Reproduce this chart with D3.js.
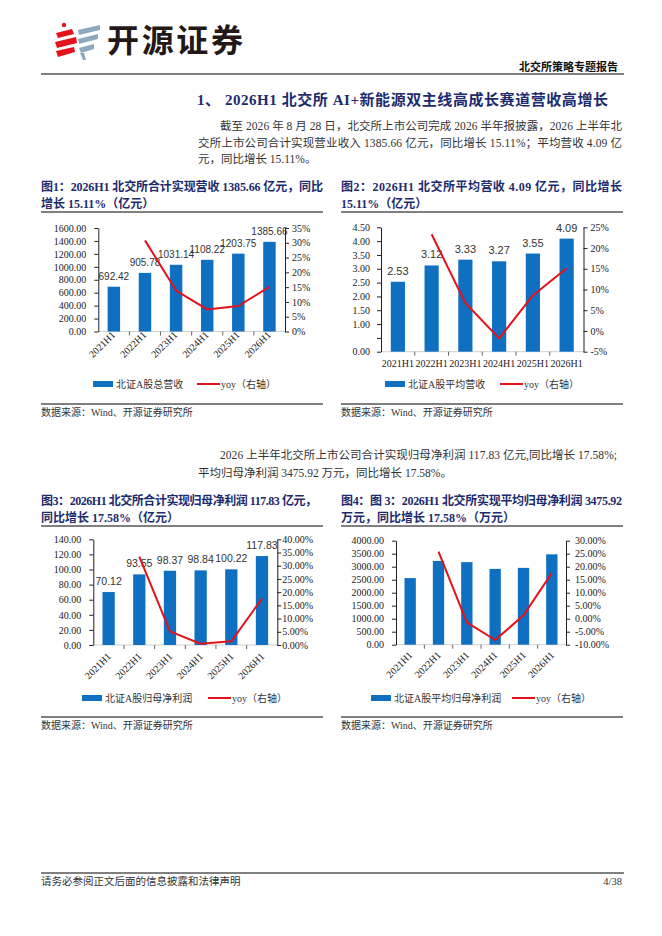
<!DOCTYPE html>
<html>
<head>
<meta charset="utf-8">
<script src="https://cdn.jsdelivr.net/npm/d3@7"></script>
<style>
  body { margin: 0; background: #fff; }
  svg { display: block; }
</style>
</head>
<body>
<script>
// ---- data ----
const years = ["2021H1", "2022H1", "2023H1", "2024H1", "2025H1", "2026H1"];

const revTotal = [692.42, 905.78, 1031.14, 1108.22, 1203.75, 1385.66];
const revTotalYoy = [null, 30.81, 13.84, 7.48, 8.62, 15.11];

const revAvg = [2.53, 3.12, 3.33, 3.27, 3.55, 4.09];
const revAvgYoy = [null, 23.32, 6.73, -1.80, 8.56, 15.11];

const profitTotal = [70.12, 93.55, 98.37, 98.84, 100.22, 117.83];
const profitTotalYoy = [null, 33.41, 5.15, 0.48, 1.40, 17.58];

const profitAvg = [2562, 3222, 3176, 2916, 2955, 3475.92];
const profitAvgYoy = [null, 25.8, -1.4, -8.2, 1.3, 17.58];

const ticks1Left = [0, 200, 400, 600, 800, 1000, 1200, 1400, 1600];
const ticks1Right = [0, 5, 10, 15, 20, 25, 30, 35];
const ticks2Left = [0, 0.5, 1, 1.5, 2, 2.5, 3, 3.5, 4, 4.5];
const ticks2Right = [-5, 0, 5, 10, 15, 20, 25];
const ticks3Left = [0, 20, 40, 60, 80, 100, 120, 140];
const ticks3Right = [0, 5, 10, 15, 20, 25, 30, 35, 40];
const ticks4Left = [0, 500, 1000, 1500, 2000, 2500, 3000, 3500, 4000];
const ticks4Right = [-10, -5, 0, 5, 10, 15, 20, 25, 30];

const SERIF = '"Liberation Serif","Noto Sans CJK SC",serif';
const SANS = '"Liberation Sans","Noto Sans CJK SC",sans-serif';
const NAVY = "#1c2b6e";
const BLUE = "#0f6fc0";
const RED = "#e3121b";

const svg = d3.select("body").append("svg")
    .attr("width", 662).attr("height", 936);
svg.append("rect").attr("width", 662).attr("height", 936).attr("fill", "#fff");

function txt(x, y, s, o) {
    o = o || {};
    const t = svg.append("text")
        .attr("x", x).attr("y", y)
        .attr("font-family", o.family || SERIF)
        .attr("font-size", o.size || 12)
        .attr("font-weight", o.weight || "normal")
        .attr("fill", o.fill || "#222")
        .attr("text-anchor", o.anchor || "start")
        .text(s);
    if (o.len) t.attr("textLength", o.len).attr("lengthAdjust", "spacing");
    return t;
}

// ---- header ----
const logo = svg.append("g");
logo.append("circle").attr("cx", 64).attr("cy", 25).attr("r", 2.2).attr("fill", RED);
[[56,33,72,29,74,34,58,38],[55,42,76,37,77,43,57,48],[56,51,74,47,75,52,58,57]].forEach(p => {
    logo.append("polygon").attr("points", `${p[0]},${p[1]} ${p[2]},${p[3]} ${p[4]},${p[5]} ${p[6]},${p[7]}`).attr("fill", RED);
});
[[78,30,100,25,100,30,79,35],[78,39,98,34,98,39,79,44],[79,48,94,44,94,49,81,53],[80,53,84,53,86,60,83,60]].forEach(p => {
    logo.append("polygon").attr("points", `${p[0]},${p[1]} ${p[2]},${p[3]} ${p[4]},${p[5]} ${p[6]},${p[7]}`).attr("fill", "#8ea9bf");
});
txt(107, 52, "开源证券", {family: '"Noto Sans CJK SC",sans-serif', size: 32, weight: 700, fill: "#231815", len: 136});

txt(618, 71, "北交所策略专题报告", {size: 11, weight: "bold", fill: "#111", anchor: "end"});
svg.append("line").attr("x1", 41).attr("x2", 624).attr("y1", 74).attr("y2", 74)
    .attr("stroke", "#000").attr("stroke-width", 1.2);

txt(197, 105, "1、 2026H1 北交所 AI+新能源双主线高成长赛道营收高增长", {size: 15, weight: "bold", fill: NAVY, len: 411});

txt(220, 130, "截至 2026 年 8 月 28 日，北交所上市公司完成 2026 半年报披露，2026 上半年北", {size: 11.5, fill: "#333", len: 402});
txt(198, 147, "交所上市公司合计实现营业收入 1385.66 亿元，同比增长 15.11%；平均营收 4.09 亿", {size: 11.5, fill: "#333", len: 424});
txt(198, 163, "元，同比增长 15.11%。", {size: 11.5, fill: "#333"});

txt(220, 459, "2026 上半年北交所上市公司合计实现归母净利润 117.83 亿元,同比增长 17.58%;", {size: 11.5, fill: "#333", len: 397});
txt(198, 477, "平均归母净利润 3475.92 万元，同比增长 17.58%。", {size: 11.5, fill: "#333"});

// ---- footer ----
svg.append("line").attr("x1", 41).attr("x2", 624).attr("y1", 873).attr("y2", 873)
    .attr("stroke", "#000").attr("stroke-width", 1);
txt(41, 885, "请务必参阅正文后面的信息披露和法律声明", {size: 10.5, fill: "#333"});
txt(622, 885, "4/38", {size: 10.5, fill: "#333", anchor: "end"});

// ---- charts ----
function drawChart(c) {
    // title block
    txt(c.left, c.titleY, c.title1, {size: 12, weight: "bold", fill: NAVY, len: c.title1Len});
    txt(c.left, c.titleY + 17, c.title2, {size: 12, weight: "bold", fill: NAVY});
    svg.append("line").attr("x1", c.left).attr("x2", c.left + 282)
        .attr("y1", c.titleY + 21).attr("y2", c.titleY + 21).attr("stroke", "#000").attr("stroke-width", 1);
    svg.append("line").attr("x1", c.left).attr("x2", c.left + 282)
        .attr("y1", c.srcY).attr("y2", c.srcY).attr("stroke", "#000").attr("stroke-width", 1);
    txt(c.left, c.srcY + 12, "数据来源：Wind、开源证券研究所", {size: 10, fill: "#333"});

    const x = d3.scaleBand().domain(years).range([c.x0, c.x1]);
    const bw = x.bandwidth();
    const yL = d3.scaleLinear().domain(d3.extent(c.leftTicks)).range([c.yBot, c.yTop]);
    const yR = d3.scaleLinear().domain(d3.extent(c.rightTicks)).range([c.yBot, c.yTop]);

    const g = svg.append("g");

    // bottom baseline + boundary ticks
    g.append("line").attr("x1", c.x0).attr("x2", c.x1).attr("y1", c.yBot).attr("y2", c.yBot)
        .attr("stroke", "#d0d0d0");
    g.selectAll(".bt").data(years.slice(1)).enter().append("line")
        .attr("x1", d => x(d)).attr("x2", d => x(d))
        .attr("y1", c.yBot).attr("y2", c.yBot + 4).attr("stroke", "#666");

    // bars
    g.selectAll(".bar").data(c.bars).enter().append("rect")
        .attr("x", (d, i) => x(years[i]) + bw * (1 - c.barFrac) / 2)
        .attr("width", bw * c.barFrac)
        .attr("y", d => yL(d))
        .attr("height", d => c.yBot - yL(d))
        .attr("fill", BLUE);

    // axes
    const axL = g.append("g").attr("transform", `translate(${c.x0},0)`)
        .call(d3.axisLeft(yL).tickValues(c.leftTicks).tickSize(4).tickSizeOuter(0)
            .tickPadding(c.padL).tickFormat(c.fmtL));
    const axR = g.append("g").attr("transform", `translate(${c.x1},0)`)
        .call(d3.axisRight(yR).tickValues(c.rightTicks).tickSize(4).tickSizeOuter(0)
            .tickPadding(c.padR).tickFormat(c.fmtR));
    [axL, axR].forEach(a => {
        a.selectAll("text").attr("font-family", SERIF).attr("font-size", 10).attr("fill", "#222");
        a.selectAll("line,path").attr("stroke", "#222");
    });

    // category labels
    const cl = g.selectAll(".cl").data(years).enter().append("text")
        .attr("font-family", SERIF).attr("font-size", 10).attr("fill", "#222")
        .text(d => d);
    if (c.rotate) {
        cl.attr("text-anchor", "end")
          .attr("transform", d => `translate(${x(d) + bw / 2 + c.labDx},${c.yBot + c.labDy}) rotate(-45)`);
    } else {
        cl.attr("text-anchor", "middle")
          .attr("x", d => x(d) + bw / 2).attr("y", c.yBot + c.labDy);
    }

    // value labels
    if (c.valueLabels) {
        g.selectAll(".vl").data(c.bars).enter().append("text")
            .attr("x", (d, i) => x(years[i]) + bw / 2)
            .attr("y", d => yL(d) - 7)
            .attr("text-anchor", "middle")
            .attr("font-family", SANS).attr("font-size", c.vlSize).attr("fill", "#333")
            .text(d => d.toFixed(2));
    }

    // yoy line
    const pts = c.yoy.map((v, i) => ({v, i})).filter(d => d.v !== null);
    g.append("path").datum(pts)
        .attr("fill", "none").attr("stroke", RED).attr("stroke-width", 2)
        .attr("stroke-linejoin", "round")
        .attr("d", d3.line().x(d => x(years[d.i]) + bw / 2).y(d => yR(d.v)));

    // legend
    g.append("rect").attr("x", c.legX).attr("y", c.legY - 3).attr("width", 20).attr("height", 6).attr("fill", BLUE);
    txt(c.legX + 23, c.legY + 3.5, c.legName, {size: 10, fill: "#333"});
    g.append("line").attr("x1", c.legX2).attr("x2", c.legX2 + 23).attr("y1", c.legY).attr("y2", c.legY)
        .attr("stroke", RED).attr("stroke-width", 2);
    txt(c.legX2 + 24, c.legY + 3.5, "yoy（右轴）", {size: 10, fill: "#333"});
}

const f2 = d => d.toFixed(2);

drawChart({
    left: 41, titleY: 191, title1: "图1：2026H1 北交所合计实现营收 1385.66 亿元，同比", title1Len: 282,
    title2: "增长 15.11%（亿元）", srcY: 404,
    x0: 98.3, x1: 285, yTop: 228, yBot: 331.5, barFrac: 0.4,
    bars: revTotal, yoy: revTotalYoy,
    leftTicks: ticks1Left, rightTicks: ticks1Right, fmtL: f2, fmtR: d => d + "%",
    padL: 8, padR: 3, rotate: true, labDx: 2, labDy: 4, valueLabels: true, vlSize: 10,
    legX: 93, legY: 384, legName: "北证A股总营收", legX2: 197
});

drawChart({
    left: 341, titleY: 191, title1: "图2：2026H1 北交所平均营收 4.09 亿元，同比增长", title1Len: 281,
    title2: "15.11%（亿元）", srcY: 404,
    x0: 381, x1: 583.5, yTop: 227.3, yBot: 351.7, barFrac: 0.42,
    bars: revAvg, yoy: revAvgYoy,
    leftTicks: ticks2Left, rightTicks: ticks2Right,
    fmtL: d => (d === 0.5 ? "" : d.toFixed(2)), fmtR: d => d + "%",
    padL: 7, padR: 3, rotate: false, labDy: 15, valueLabels: true, vlSize: 11,
    legX: 385, legY: 384, legName: "北证A股平均营收", legX2: 500
});

drawChart({
    left: 41, titleY: 505, title1: "图3：2026H1 北交所合计实现归母净利润 117.83 亿元，", title1Len: 276,
    title2: "同比增长 17.58%（亿元）", srcY: 717,
    x0: 93.3, x1: 277.3, yTop: 539.3, yBot: 645, barFrac: 0.4,
    bars: profitTotal, yoy: profitTotalYoy,
    leftTicks: ticks3Left, rightTicks: ticks3Right, fmtL: f2, fmtR: d => d.toFixed(2) + "%",
    padL: 8, padR: 1, rotate: true, labDx: 3, labDy: 12, valueLabels: true, vlSize: 10.5,
    legX: 82, legY: 698, legName: "北证A股归母净利润", legX2: 208
});

drawChart({
    left: 341, titleY: 505, title1: "图4：图 3：2026H1 北交所实现平均归母净利润 3475.92", title1Len: 281,
    title2: "万元，同比增长 17.58%（万元）", srcY: 717,
    x0: 396, x1: 566, yTop: 540.7, yBot: 644.7, barFrac: 0.4,
    bars: profitAvg, yoy: profitAvgYoy,
    leftTicks: ticks4Left, rightTicks: ticks4Right, fmtL: f2, fmtR: d => d.toFixed(2) + "%",
    padL: 8, padR: 5, rotate: true, labDx: 3, labDy: 11, valueLabels: false,
    legX: 371, legY: 698, legName: "北证A股平均归母净利润", legX2: 512
});
</script>
</body>
</html>
